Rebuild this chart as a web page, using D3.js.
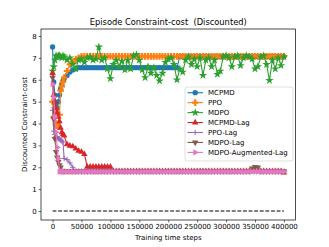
<!DOCTYPE html>
<html>
<head>
<meta charset="utf-8">
<script src="https://cdn.jsdelivr.net/npm/d3@7"></script>
<style>
body { margin: 0; background: #fff; }
svg { display: block; font-family: "DejaVu Sans", sans-serif; }
</style>
</head>
<body>
<div id="chart"></div>
<script>
const W = 329, H = 247;

// training steps shared by every run
const steps = [0, 2000, 4000, 6000, 8000, 10000, 12000, 14000, 16000, 18000, 20000,
    25000, 30000, 35000, 40000, 45000, 50000, 55000, 60000, 65000, 70000, 75000, 80000, 85000, 90000, 95000, 100000,
    105000, 110000, 115000, 120000, 125000, 130000, 135000, 140000, 145000, 150000, 155000, 160000, 165000, 170000, 175000, 180000,
    185000, 190000, 195000, 200000, 205000, 210000, 215000, 220000, 225000, 230000, 235000, 240000, 245000, 250000, 255000, 260000,
    265000, 270000, 275000, 280000, 285000, 290000, 295000, 300000, 305000, 310000, 315000, 320000, 325000, 330000, 335000, 340000,
    345000, 350000, 355000, 360000, 365000, 370000, 375000, 380000, 385000, 390000, 395000, 400000];

const mcpmd = [7.5, 5.9, 5.3, 4.9, 4.7, 5.0, 5.3, 5.6, 5.8, 5.95, 6.05,
    6.2, 6.35, 6.45, 6.5,
    6.55, 6.55, 6.55, 6.55, 6.55, 6.55, 6.55, 6.55, 6.55, 6.55, 6.55, 6.55, 6.55, 6.55, 6.55, 6.55, 6.55, 6.55,
    6.55, 6.55, 6.55, 6.55, 6.55, 6.55, 6.55, 6.55, 6.55, 6.55, 6.55, 6.55, 6.55, 6.55, 6.55, 6.55, 6.55,
    7.06, 7.06, 7.06, 7.06, 7.06, 7.06, 7.06, 7.06, 7.06, 7.06, 7.06, 7.06, 7.06, 7.06, 7.06, 7.06, 7.06, 7.06, 7.06,
    7.06, 7.06, 7.06, 7.06, 7.06, 7.06, 7.06, 7.06, 7.06, 7.06, 7.06, 7.06, 7.06, 7.06, 7.06, 7.06, 7.06, 7.06];

const ppo = [5.0, 4.3, 4.7, 4.0, 3.9, 3.85, 4.4, 5.5, 5.7, 5.9, 6.1,
    6.4, 6.7, 6.8, 6.95, 7.0,
    7.07, 7.07, 7.07, 7.07, 7.07, 7.07, 7.07, 7.07, 7.07, 7.07, 7.07, 7.07, 7.07, 7.07, 7.07, 7.07, 7.07, 7.07,
    7.07, 7.07, 7.07, 7.07, 7.07, 7.07, 7.07, 7.07, 7.07, 7.07, 7.07, 7.07, 7.07, 7.07, 7.07, 7.07, 7.07, 7.07,
    7.07, 7.07, 7.07, 7.07, 7.07, 7.07, 7.07, 7.07, 7.07, 7.07, 7.07, 7.07, 7.07, 7.07, 7.07, 7.07, 7.07, 7.07,
    7.07, 7.07, 7.07, 7.07, 7.07, 7.07, 7.07, 7.07, 7.07, 7.07, 7.07, 7.07, 7.07, 7.07, 7.07, 7.07, 7.07];

const mdpo = [6.4, 6.6, 6.9, 7.1, 7.05, 7.1, 7.1, 7.05, 7.0, 7.1, 7.05,
    6.9, 7.0, 6.7, 6.5, 6.9, 6.95, 6.8, 7.0, 7.05, 6.9, 6.95, 7.5, 6.9, 7.0, 6.5, 6.05,
    6.7, 6.9, 6.6, 6.85, 6.45, 6.9, 6.5, 7.1, 7.15, 6.9, 6.45, 6.1, 6.6, 6.3, 6.55, 6.2,
    5.95, 6.3, 6.8, 6.95, 7.0, 6.7, 6.0, 6.5, 6.35, 6.9, 7.05, 6.7, 6.95, 6.6, 7.0, 6.2,
    6.9, 7.0, 6.6, 6.9, 6.25, 6.4, 7.05, 7.1, 7.0, 6.6, 7.05, 7.1, 6.65, 7.0, 7.1, 7.05,
    6.95, 6.5, 6.6, 7.05, 7.1, 6.7, 5.97, 6.9, 6.5, 7.0, 6.65, 7.05];

const mcpmdLag = [6.3, 5.3, 5.0, 4.7, 4.5, 4.3, 4.1, 3.8, 3.6, 3.5, 3.45,
    3.05, 2.98, 2.95, 2.85, 2.75, 2.7, 2.6,
    2.02, 2.02, 2.02, 2.02, 2.02, 2.02, 2.02, 2.02, 2.02,
    1.82, 1.82, 1.82, 1.82, 1.82, 1.82, 1.82, 1.82, 1.82, 1.82, 1.82, 1.82, 1.82, 1.82, 1.82, 1.82,
    1.82, 1.82, 1.82, 1.82, 1.82, 1.82, 1.82, 1.82, 1.82, 1.82, 1.82, 1.82, 1.82, 1.82, 1.82, 1.82,
    1.82, 1.82, 1.82, 1.82, 1.82, 1.82, 1.82, 1.82, 1.82, 1.82, 1.82, 1.82, 1.82, 1.82, 1.82, 1.82,
    1.82, 1.82, 1.82, 1.82, 1.82, 1.82, 1.82, 1.82, 1.82, 1.82, 1.82, 1.76];

const ppoLag = [4.6, 3.65, 3.5, 3.4, 3.35, 3.3, 3.3, 3.25, 3.2, 3.15, 2.4,
    2.35, 2.2, 2.0,
    1.82, 1.82, 1.82, 1.82, 1.82, 1.82, 1.82, 1.82, 1.82, 1.82, 1.82, 1.82, 1.82,
    1.82, 1.82, 1.82, 1.82, 1.82, 1.82, 1.82, 1.82, 1.82, 1.82, 1.82, 1.82, 1.82, 1.82, 1.82, 1.82,
    1.82, 1.82, 1.82, 1.82, 1.82, 1.82, 1.82, 1.82, 1.82, 1.82, 1.82, 1.82, 1.82, 1.82, 1.82, 1.82,
    1.82, 1.82, 1.82, 1.82, 1.82, 1.82, 1.82, 1.82, 1.82, 1.82, 1.82, 1.82, 1.82, 1.82, 1.82, 1.82,
    1.82, 1.82, 1.82, 1.82, 1.82, 1.82, 1.82, 1.82, 1.82, 1.82, 1.82, 1.82];

const mdpoLag = [6.1, 4.2, 3.3, 2.7, 2.45, 2.25, 2.1, 2.0, 1.85, 1.82, 1.82,
    1.82, 1.82, 1.82, 1.82, 1.82, 1.82, 1.82, 1.82, 1.82, 1.82, 1.82, 1.82, 1.82, 1.82, 1.82, 1.82,
    1.82, 1.82, 1.82, 1.82, 1.82, 1.82, 1.82, 1.82, 1.82, 1.82, 1.82, 1.82, 1.82, 1.82, 1.82, 1.82,
    1.82, 1.82, 1.82, 1.82, 1.82, 1.82, 1.82, 1.82, 1.82, 1.82, 1.82, 1.82, 1.82, 1.82, 1.82, 1.82,
    1.82, 1.82, 1.82, 1.82, 1.82, 1.82, 1.82, 1.82, 1.82, 1.82, 1.82, 1.82, 1.82, 1.82, 1.82, 1.82,
    1.95, 2.02, 2.0, 1.82, 1.82, 1.82, 1.82, 1.82, 1.82, 1.82, 1.82, 1.82];

const mdpoAugLag = [5.8, 5.2, 4.3, 3.6, 2.9, 2.4, 1.8, 1.8, 1.8, 1.8, 1.8,
    1.8, 1.8, 1.8, 1.8, 1.8, 1.8, 1.8, 1.8, 1.8, 1.8, 1.8, 1.8, 1.8, 1.8, 1.8, 1.8,
    1.8, 1.8, 1.8, 1.8, 1.8, 1.8, 1.8, 1.8, 1.8, 1.8, 1.8, 1.8, 1.8, 1.8, 1.8, 1.8,
    1.8, 1.8, 1.8, 1.8, 1.8, 1.8, 1.8, 1.8, 1.8, 1.8, 1.8, 1.8, 1.8, 1.8, 1.8, 1.8,
    1.8, 1.8, 1.8, 1.8, 1.8, 1.8, 1.8, 1.8, 1.8, 1.8, 1.8, 1.8, 1.8, 1.8, 1.8, 1.8,
    1.8, 1.8, 1.8, 1.8, 1.8, 1.8, 1.8, 1.8, 1.8, 1.8, 1.8, 1.8];

const names = ["MCPMD", "PPO", "MDPO", "MCPMD-Lag", "PPO-Lag", "MDPO-Lag", "MDPO-Augmented-Lag"];
const values = [mcpmd, ppo, mdpo, mcpmdLag, ppoLag, mdpoLag, mdpoAugLag];
const colors = ["#1f77b4", "#ff7f0e", "#2ca02c", "#d62728", "#9467bd", "#8c564b", "#e377c2"];
const markers = ["circle", "pplus", "star", "up", "plus", "down", "right"];
const xTicks = [0, 50000, 100000, 150000, 200000, 250000, 300000, 350000, 400000];
const yTicks = [0, 1, 2, 3, 4, 5, 6, 7, 8];
const limit = 0;

const svg = d3.select("#chart").append("svg")
    .attr("width", W)
    .attr("height", H);

const pLeft = 41, pRight = 295.5, pTop = 29, pBottom = 220;

const x = d3.scaleLinear().domain([-20000, 420000]).range([pLeft, pRight]);
const y = d3.scaleLinear().domain([-0.41, 8.32]).range([pBottom, pTop]);

function markerPath(kind) {
    if (kind == "circle") return d3.symbol(d3.symbolCircle, 22)();
    if (kind == "pplus") return d3.symbol(d3.symbolCross, 24)();
    if (kind == "star") return d3.symbol(d3.symbolStar, 22)();
    if (kind == "plus") return "M-2.7,0H2.7M0,-2.7V2.7";
    return d3.symbol(d3.symbolTriangle, 18)();
}
function markerRot(kind) {
    if (kind == "down") return 180;
    if (kind == "right") return 90;
    return 0;
}

const line = d3.line()
    .x(function(d) { return x(d[0]) })
    .y(function(d) { return y(d[1]) });

// runs
values.forEach(function(vals, k) {
    var pts = steps.map(function(s, i) { return [s, vals[i]] });
    var g = svg.append("g").attr("class", "series");
    g.append("path")
        .attr("d", line(pts))
        .attr("fill", "none")
        .attr("stroke", colors[k])
        .attr("stroke-width", 1.1);
    g.selectAll("path.m").data(pts).enter()
        .append("path")
        .attr("class", "m")
        .attr("d", markerPath(markers[k]))
        .attr("transform", function(d) { return "translate(" + x(d[0]) + "," + y(d[1]) + ") rotate(" + markerRot(markers[k]) + ")" })
        .attr("fill", markers[k] == "plus" ? "none" : colors[k])
        .attr("stroke", markers[k] == "plus" ? colors[k] : "none")
        .attr("stroke-width", 1);
});

// constraint limit
svg.append("line")
    .attr("x1", x(0)).attr("x2", x(400000))
    .attr("y1", y(limit)).attr("y2", y(limit))
    .attr("stroke", "#000")
    .attr("stroke-width", 1.1)
    .attr("stroke-dasharray", "3.9,1.7");

// axes
const xAxis = svg.append("g")
    .attr("transform", "translate(0," + pBottom + ")")
    .call(d3.axisBottom(x).tickValues(xTicks).tickFormat(d3.format("d")).tickSize(2.4).tickPadding(2));
const yAxis = svg.append("g")
    .attr("transform", "translate(" + pLeft + ",0)")
    .call(d3.axisLeft(y).tickValues(yTicks).tickSize(2.4).tickPadding(2));
[xAxis, yAxis].forEach(function(a) {
    a.select(".domain").remove();
    a.selectAll("text").attr("font-size", 7).attr("fill", "#000").attr("font-family", "DejaVu Sans");
    a.selectAll("line").attr("stroke", "#000").attr("stroke-width", 0.6);
});

svg.append("rect")
    .attr("x", pLeft).attr("y", pTop)
    .attr("width", pRight - pLeft).attr("height", pBottom - pTop)
    .attr("fill", "none")
    .attr("stroke", "#000")
    .attr("stroke-width", 0.7);

svg.append("text")
    .attr("x", (pLeft + pRight) / 2).attr("y", 25)
    .attr("text-anchor", "middle")
    .attr("font-size", 8.3)
    .style("white-space", "pre")
    .text("Episode Constraint-cost  (Discounted)");

svg.append("text")
    .attr("x", (pLeft + pRight) / 2).attr("y", 240)
    .attr("text-anchor", "middle")
    .attr("font-size", 7)
    .text("Training time steps");

svg.append("text")
    .attr("transform", "translate(27," + ((pTop + pBottom) / 2) + ") rotate(-90)")
    .attr("text-anchor", "middle")
    .attr("font-size", 7)
    .text("Discounted Constraint-cost");

// legend
const lg = svg.append("g").attr("transform", "translate(185,87)");
lg.append("rect")
    .attr("width", 108).attr("height", 74).attr("rx", 2)
    .attr("fill", "#fff").attr("fill-opacity", 0.8)
    .attr("stroke", "#ccc").attr("stroke-width", 0.6);
names.forEach(function(n, k) {
    var yy = 5.7 + k * 9.95;
    lg.append("line")
        .attr("x1", 2.5).attr("x2", 18)
        .attr("y1", yy).attr("y2", yy)
        .attr("stroke", colors[k]).attr("stroke-width", 1.1);
    lg.append("path")
        .attr("d", markerPath(markers[k]))
        .attr("transform", "translate(10.2," + yy + ") rotate(" + markerRot(markers[k]) + ")")
        .attr("fill", markers[k] == "plus" ? "none" : colors[k])
        .attr("stroke", markers[k] == "plus" ? colors[k] : "none")
        .attr("stroke-width", 1);
    lg.append("text")
        .attr("x", 23).attr("y", yy)
        .attr("dy", "0.35em")
        .attr("font-size", 7)
        .text(n);
});
</script>
</body>
</html>
